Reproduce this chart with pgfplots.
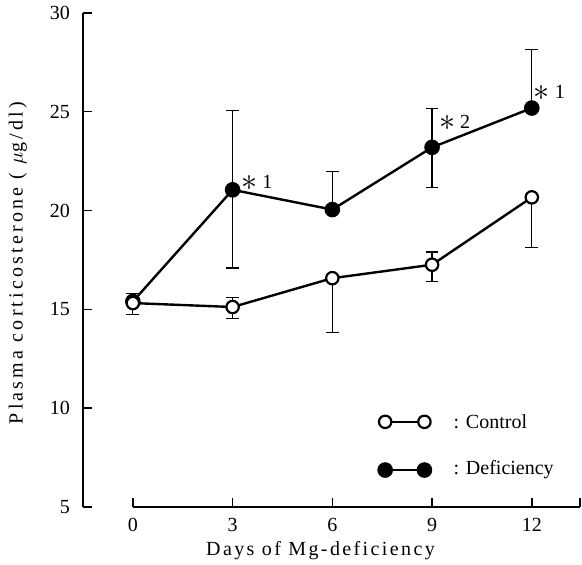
\documentclass[border=0pt]{standalone}
\usepackage{fontspec}
\setmainfont{Liberation Serif}
\newfontfamily\spacedfont[LetterSpace=12]{Liberation Serif}
\newfontfamily\yspacedfont[LetterSpace=16]{Liberation Serif}
\usepackage{graphicx}
\usepackage{pgfplots}
\usepackage{pgfplotstable}
\pgfplotsset{compat=1.18}
\pgfplotstableread{
x y ep em
0 15.32 0.48 0.59
3 15.12 0.47 0.59
6 16.58 0 2.73
9 17.26 0.64 0.85
12 20.67 0 2.52
}\control
\pgfplotstableread{
x y ep em
0 15.40 0 0
3 21.05 4.03 3.96
6 20.05 1.94 0
9 23.20 1.97 2.02
12 25.19 2.97 0
}\deficiency
\newcommand{\bigast}{\raisebox{-0.2ex}{\scalebox{1.6}{$\ast$}}}
\begin{document}
\begin{tikzpicture}
\useasboundingbox (-41.5pt,-29pt) rectangle (249.5pt,253.5pt);
\begin{axis}[
  at={(0,0)}, anchor=south west,
  scale only axis, width=248.5pt, height=247pt,
  xmin=-1.5, xmax=13.45, ymin=5, ymax=30,
  axis x line=bottom, axis y line=left,
  axis line style={-},
  x axis line style={draw=none},
  y axis line style={line width=0.7pt},
  xtick={0,3,6,9,12}, ytick={5,10,...,30},
  extra x ticks={13.45}, extra x tick labels={},
  tick align=inside, major tick length=4.5pt,
  every tick/.style={line width=0.7pt, black},
  extra x tick style={tick style={line width=0.7pt, black}},
  clip=false,
  /pgf/number format/assume math mode=true,
  tick label style={font=\fontsize{10}{12}\selectfont},
  xticklabel style={yshift=-2pt},
  yticklabel style={xshift=-3pt},
  xlabel={Days of Mg-deficiency},
  ylabel={Plasma corticosterone ( $\mu$g/dl)},
  xlabel style={at={(axis description cs:0.478,-0.0992)}, anchor=base, font=\spacedfont\fontsize{10}{12}\selectfont},
  ylabel style={at={(axis description cs:-0.131,0.494)}, anchor=center, font=\yspacedfont\fontsize{10}{12}\selectfont},
]
% x axis line (from day 0 to the right end)
\addplot[black, line width=0.7pt, no marks, forget plot] coordinates {(0,5) (13.45,5)};
% Deficiency
\addplot[black, line width=1.2pt, mark=*, mark size=3.3pt, mark options={fill=black},
  error bars/.cd, y dir=both, y explicit,
  error bar style={line width=0.6pt},
  error mark options={rotate=90, mark size=3.2pt, line width=0.6pt}]
  table[x=x, y=y, y error plus=ep, y error minus=em] {\deficiency};
% Control
\addplot[black, line width=1.2pt, mark=*, mark size=3.1pt, mark options={fill=white, draw=black, line width=1.1pt},
  error bars/.cd, y dir=both, y explicit,
  error bar style={line width=0.6pt},
  error mark options={rotate=90, mark size=3.2pt, line width=0.6pt}]
  table[x=x, y=y, y error plus=ep, y error minus=em] {\control};
% legend rows
\addplot[black, line width=1.2pt, mark=*, mark size=3.1pt, mark options={fill=white, draw=black, line width=1.1pt}]
  coordinates {(7.59,9.31) (8.77,9.31)};
\addplot[black, line width=1.2pt, mark=*, mark size=3.3pt, mark options={fill=black}]
  coordinates {(7.59,6.87) (8.77,6.87)};
\node[anchor=west, font=\fontsize{10}{12}\selectfont, inner sep=0pt] at (axis cs:9.64,9.31) {: Control};
\node[anchor=west, font=\fontsize{10}{12}\selectfont, inner sep=0pt] at (axis cs:9.64,6.87) {: Deficiency};
% significance marks
\node[anchor=west, font=\fontsize{10}{12}\selectfont, inner sep=0pt] at (axis cs:3.25,21.4) {\bigast\hspace{2.5pt}1};
\node[anchor=west, font=\fontsize{10}{12}\selectfont, inner sep=0pt] at (axis cs:9.2,24.45) {\bigast\hspace{2.5pt}2};
\node[anchor=west, font=\fontsize{10}{12}\selectfont, inner sep=0pt] at (axis cs:12.05,25.96) {\bigast\hspace{2.5pt}1};
\end{axis}
\end{tikzpicture}
\end{document}
